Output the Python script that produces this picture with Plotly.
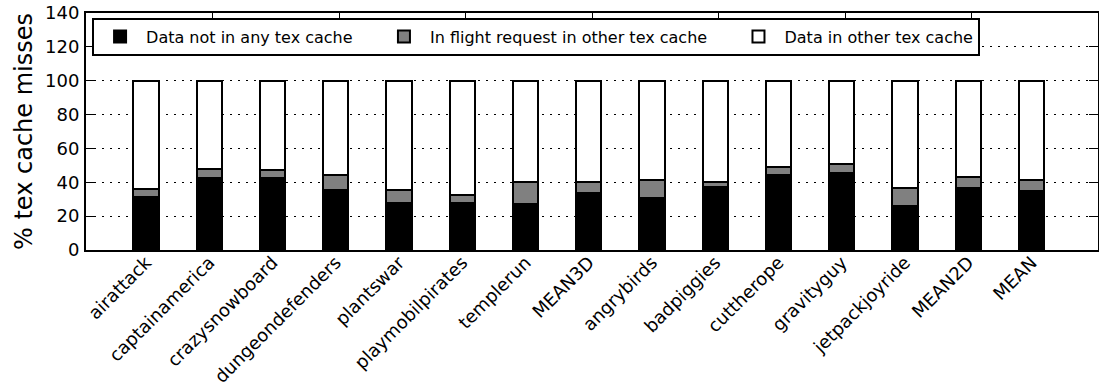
import plotly.graph_objects as go

categories = ["airattack", "captainamerica", "crazysnowboard", "dungeondefenders",
              "plantswar", "playmobilpirates", "templerun", "MEAN3D", "angrybirds",
              "badpiggies", "cuttherope", "gravityguy", "jetpackjoyride", "MEAN2D", "MEAN"]

not_in_any = [31.4, 42.7, 42.5, 35.7, 28.0, 27.8, 27.0, 33.7, 30.8, 37.3, 44.5, 45.5, 26.1, 36.7, 34.7]
in_flight = [4.9, 4.9, 4.5, 8.6, 7.3, 4.7, 13.2, 6.3, 10.4, 2.9, 4.7, 5.1, 10.6, 6.4, 6.5]
in_other = [round(100 - a - b, 1) for a, b in zip(not_in_any, in_flight)]

series_names = ["Data not in any tex cache", "In flight request in other tex cache", "Data in other tex cache"]
series_colors = ["#000000", "#808080", "#ffffff"]
series_values = [not_in_any, in_flight, in_other]

y_ticks = [0, 20, 40, 60, 80, 100, 120, 140]

FONT = "DejaVu Sans"
PAD = "\u00a0" * 4  # visual spacing between legend entries

fig = go.Figure()
for i, (name, color, vals) in enumerate(zip(series_names, series_colors, series_values)):
    label = name + (PAD if i < len(series_names) - 1 else "")
    fig.add_trace(go.Bar(
        x=categories, y=vals, name=label, width=0.4,
        marker=dict(color=color, line=dict(color="black", width=2)),
    ))

# invisible helper trace so the top (mirrored-tick) axis is drawn
fig.add_trace(go.Scatter(x=[], y=[], xaxis="x2", yaxis="y", showlegend=False, hoverinfo="skip"))

fig.update_layout(
    width=1099, height=387,
    margin=dict(l=86, r=1, t=13, b=137),
    paper_bgcolor="white", plot_bgcolor="white",
    barmode="stack",
    font=dict(family=FONT, color="black", size=16),
    showlegend=True,
    legend=dict(
        orientation="h", x=0.006, y=0.981, xanchor="left", yanchor="top",
        bgcolor="white", bordercolor="black", borderwidth=2,
        font=dict(family=FONT, size=16, color="black"),
        traceorder="normal", itemwidth=42,
    ),
    xaxis=dict(
        type="category", range=[-0.95, 15.05], automargin=False,
        showline=True, linecolor="black", linewidth=2, mirror=True,
        ticks="", tickangle=-45, showgrid=False, zeroline=False,
        ticklabelstandoff=-7,
        tickfont=dict(family=FONT, size=18, color="black"),
    ),
    xaxis2=dict(
        overlaying="x", side="top", anchor="y", range=[0, 16], automargin=False,
        tickmode="array", tickvals=[2, 4, 6, 8, 10, 12, 14],
        ticks="inside", ticklen=8, tickwidth=1, tickcolor="black",
        showticklabels=False, showline=False, showgrid=False, zeroline=False,
    ),
    yaxis=dict(
        range=[0, 140], tickmode="array", tickvals=y_ticks, automargin=False,
        ticks="inside", ticklen=9, tickwidth=1, tickcolor="black",
        showline=True, linecolor="black", linewidth=2, mirror="ticks",
        showgrid=True, gridcolor="black", gridwidth=1, griddash="2px,6px",
        zeroline=False, ticklabelstandoff=1,
        tickfont=dict(family=FONT, size=18, color="black"),
        title=dict(text="% tex cache misses", font=dict(family=FONT, size=24, color="black"), standoff=6),
    ),
)

fig.write_html("out.html")
